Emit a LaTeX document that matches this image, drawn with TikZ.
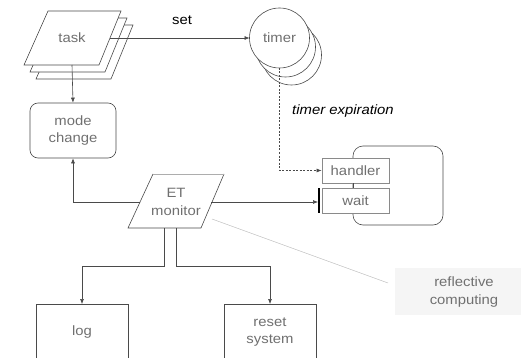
\documentclass[tikz,border=0pt]{standalone}
\usepackage{fontspec}
\setmainfont{Liberation Sans}[FakeStretch=1.1]
\usetikzlibrary{arrows.meta}
\definecolor{linec}{HTML}{4A4A4A}
\definecolor{txtc}{HTML}{707070}
\definecolor{boxc}{HTML}{8A8A8A}
\begin{document}
\begin{tikzpicture}[x=1pt,y=-1pt,
  every node/.style={font=\fontsize{13.5}{17.5}\selectfont, text=txtc, align=center, inner sep=0pt},
  conn/.style={draw=linec, line width=0.6pt},
  arr/.style={conn, -{Latex[length=5pt,width=4pt]}},
  shapeline/.style={draw=linec, line width=0.6pt, fill=white},
  smallbox/.style={draw=boxc, line width=0.8pt, fill=white, minimum width=67pt, minimum height=25pt},
  plainbox/.style={draw=linec, line width=0.6pt, fill=white},
  label/.style={text=black}
]
\useasboundingbox (0,0) rectangle (521,358);

% task: three stacked parallelograms
\foreach \dx/\dy in {12/14, 6/7, 0/0}
  \draw[shapeline] (48+\dx,11+\dy) -- (121+\dx,11+\dy) -- (99+\dx,65+\dy) -- (24+\dx,65+\dy) -- cycle;
\node (task) at (72,38) {task};
\coordinate (taskE) at (110,38);
\coordinate (taskS) at (72,65);

% timer: three stacked circles
\draw[shapeline] (291.5,55) circle (30);
\draw[shapeline] (285.5,47) circle (30);
\draw[shapeline] (279.5,38) circle (30);
\node (timer) at (279.5,38) {timer};
\coordinate (timerW) at (249.5,38);
\coordinate (timerS) at (279.5,68);

\draw[arr] (taskE) -- (timerW);
\node[label] (set) at (182,20) {set};

% mode change
\node[draw=linec, line width=0.6pt, rounded corners=8pt, minimum width=86pt, minimum height=55pt] (mode) at (73,130.5) {mode\\change};
\draw[arr] (taskS) -- (mode.north);

% handler container
\draw[draw=linec, line width=0.6pt, rounded corners=10pt] (353,146) rectangle (443,225);
\node[smallbox] (handler) at (355.5,170.5) {handler};
\node[smallbox] (wait) at (355.5,200.5) {wait};
\draw[conn] (353,183) -- (353,188);
\draw[line width=2pt, draw=black] (319,188) -- (319,213);
\coordinate (waitW) at (318,202);

\draw[conn, dashed, dash pattern=on 2pt off 1.5pt, -{Latex[length=5pt,width=4pt]}] (timerS) |- (handler.west);
\node[label, font=\fontsize{13.5}{17.5}\selectfont\itshape] (expire) at (343,111) {timer expiration};

% ET monitor
\draw[draw=linec, line width=0.6pt, fill=white] (224,174) -- (201,228) -- (128,228) -- (153,174);
\draw[draw=boxc!70, line width=1pt] (153,174) -- (224,174);
\node (et) at (176,202) {ET\\monitor};
\coordinate (etW) at (140,202);
\coordinate (etE) at (211,202);
\coordinate (etS1) at (164,228);
\coordinate (etS2) at (176,228);
\coordinate (etR) at (212,219);

\draw[arr] (etW) -| (mode.south);
\draw[arr] (etE) -- (waitW);

% outputs
\node[plainbox, minimum width=92pt, minimum height=80pt, anchor=north] (log) at (82,304) {};
\node at (82,332) {log};
\node[plainbox, minimum width=92pt, minimum height=80pt, anchor=north] (reset) at (270,304) {};
\node at (270,332) {reset\\system};

\draw[arr] (etS1) -- (164,266) -| (log.north);
\draw[arr] (etS2) -- (176,266) -| (reset.north);

% annotation
\node[fill=black!4, minimum width=126pt, minimum height=47pt] (refl) at (458,291.5) {};
\node at (464,292) {reflective\\computing};
\draw[draw=black!25, line width=0.5pt] (etR) -- (388,283);
\end{tikzpicture}
\end{document}
